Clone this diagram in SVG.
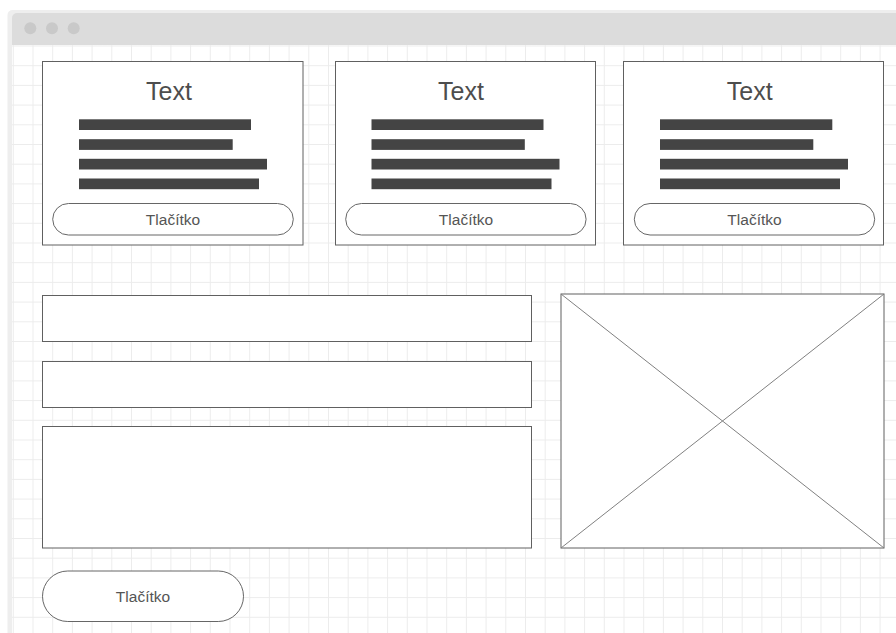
<svg xmlns="http://www.w3.org/2000/svg" width="896" height="633" viewBox="0 0 896 633">
<style>
.frame{fill:#eeeeee}
.bar{fill:#dcdcdc}
.dot{fill:#c9c9c9}
.box{fill:#ffffff;stroke:#606060;stroke-width:1}
.btn{fill:#ffffff;stroke:#666666;stroke-width:1}
.line{fill:#444444}
.title{font-family:"Liberation Sans",Arial,Helvetica,sans-serif;font-size:25px;fill:#4d4d4d;text-anchor:middle}
.btxt{font-family:"Liberation Sans",Arial,Helvetica,sans-serif;font-size:15.5px;fill:#555555;text-anchor:middle}
.diag{stroke:#808080;stroke-width:1;fill:none}
</style>
<defs>
<pattern id="grid" patternUnits="userSpaceOnUse" x="12.8" y="45.5" width="19.7" height="19.7">
<path d="M0 0.5 H19.7 M0.5 0 V19.7" stroke="#ececec" stroke-width="1" fill="none"/>
</pattern>
</defs>
<rect width="896" height="633" fill="#ffffff"/>
<g id="window">
<rect class="frame" x="7.5" y="10" width="900" height="640" rx="5"/>
<path class="bar" d="M12 45 V18 A5 5 0 0 1 17 13 H896 V45 Z"/>
<rect x="12" y="45" width="884" height="588" fill="#ffffff"/>
<rect x="12" y="45" width="884" height="588" fill="url(#grid)"/>
<circle class="dot" cx="30.3" cy="28.3" r="6"/>
<circle class="dot" cx="52" cy="28.3" r="6"/>
<circle class="dot" cx="73.7" cy="28.3" r="6"/>
</g>
<g id="card1">
<rect class="box" x="42.5" y="61.5" width="260.5" height="183.5"/>
<text class="title" x="169" y="99.5">Text</text>
<rect class="line" x="79" y="119.3" width="172" height="10.7"/>
<rect class="line" x="79" y="139.2" width="153.7" height="10.7"/>
<rect class="line" x="79" y="158.8" width="188" height="10.7"/>
<rect class="line" x="79" y="178.5" width="180" height="10.7"/>
<rect class="btn" x="52.7" y="203.5" width="240.6" height="31.5" rx="15.75"/>
<text class="btxt" x="173" y="224.7">Tlačítko</text>
</g>
<g id="card2">
<rect class="box" x="335.5" y="61.5" width="260" height="183.5"/>
<text class="title" x="461" y="99.5">Text</text>
<rect class="line" x="371.5" y="119.3" width="172" height="10.7"/>
<rect class="line" x="371.5" y="139.2" width="153.3" height="10.7"/>
<rect class="line" x="371.5" y="158.8" width="188" height="10.7"/>
<rect class="line" x="371.5" y="178.5" width="180" height="10.7"/>
<rect class="btn" x="345.7" y="203.5" width="240.4" height="31.5" rx="15.75"/>
<text class="btxt" x="466" y="224.7">Tlačítko</text>
</g>
<g id="card3">
<rect class="box" x="623.5" y="61.5" width="260" height="183.5"/>
<text class="title" x="749.7" y="99.5">Text</text>
<rect class="line" x="660" y="119.3" width="172.3" height="10.7"/>
<rect class="line" x="660" y="139.2" width="153.3" height="10.7"/>
<rect class="line" x="660" y="158.8" width="188" height="10.7"/>
<rect class="line" x="660" y="178.5" width="180" height="10.7"/>
<rect class="btn" x="634.3" y="203.5" width="240.4" height="31.5" rx="15.75"/>
<text class="btxt" x="754.5" y="224.7">Tlačítko</text>
</g>
<g id="input1">
<rect class="box" x="42.5" y="295.5" width="489" height="46"/>
</g>
<g id="input2">
<rect class="box" x="42.5" y="361.5" width="489" height="46"/>
</g>
<g id="textarea">
<rect class="box" x="42.5" y="426.5" width="489" height="121.5"/>
</g>
<g id="image">
<rect class="box" x="561" y="294" width="323" height="254"/>
<line class="diag" x1="561" y1="294" x2="884" y2="548"/>
<line class="diag" x1="884" y1="294" x2="561" y2="548"/>
</g>
<g id="submit">
<rect class="btn" x="42.5" y="571" width="201" height="50.5" rx="25.25"/>
<text class="btxt" x="143" y="601.7">Tlačítko</text>
</g>
<g id="connectors"/>
</svg>
